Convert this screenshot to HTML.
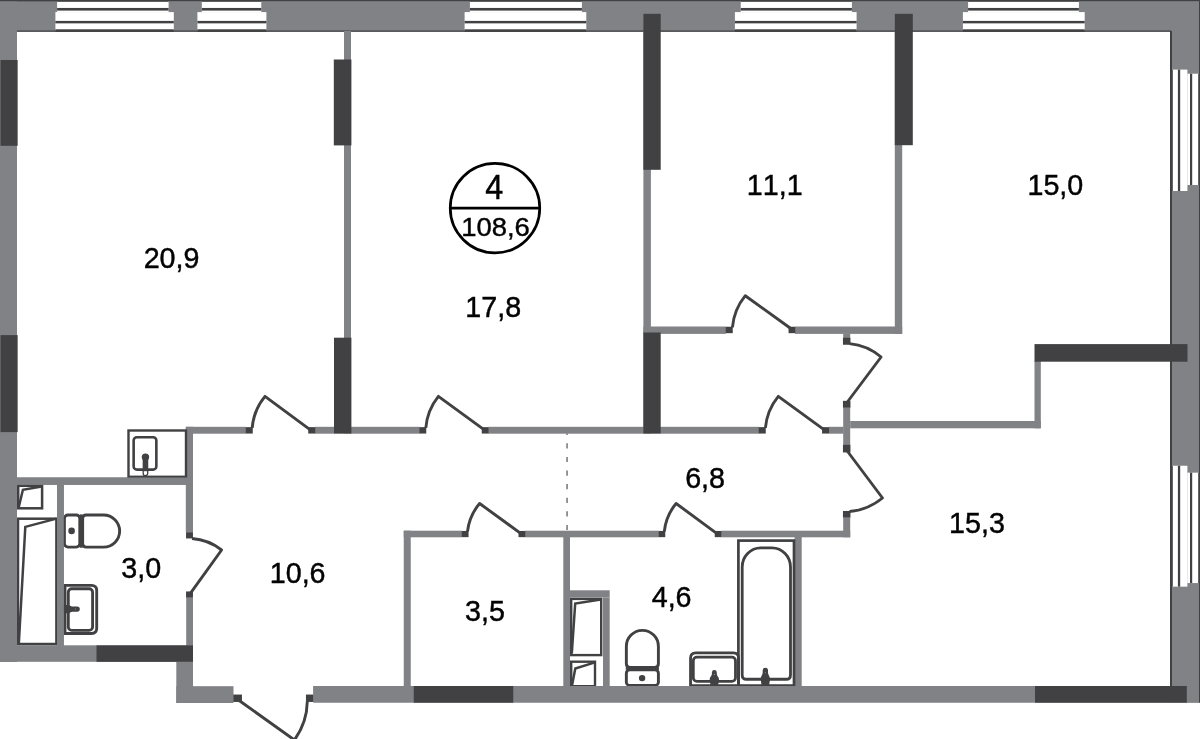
<!DOCTYPE html>
<html lang="ru"><head><meta charset="utf-8"><title>Plan</title>
<style>html,body{margin:0;padding:0;background:#fff;overflow:hidden}svg{display:block}</style></head>
<body><svg width="1200" height="739" viewBox="0 0 1200 739">
<rect width="1200" height="739" fill="#fff"/>
<rect x="0" y="0" width="1200" height="31.5" fill="#808285"/>
<rect x="0" y="0" width="17" height="662" fill="#808285"/>
<rect x="1170" y="0" width="30" height="702.5" fill="#808285"/>
<rect x="313.3" y="686" width="886.7" height="16.5" fill="#808285"/>
<rect x="0" y="645.3" width="193" height="16.5" fill="#808285"/>
<rect x="176.3" y="661.7" width="16.7" height="41.3" fill="#808285"/>
<rect x="176.3" y="686.2" width="57.2" height="16.8" fill="#808285"/>
<rect x="57.1" y="0" width="111.5" height="12.5" fill="#fff"/>
<rect x="55.4" y="12.1" width="118.4" height="18.9" fill="#fff"/>
<rect x="57.1" y="7.95" width="111.5" height="2.65" fill="#414042"/>
<rect x="55.4" y="20.9" width="118.4" height="2.45" fill="#414042"/>
<rect x="201.8" y="0" width="59.5" height="12.5" fill="#fff"/>
<rect x="197.4" y="12.1" width="69" height="18.9" fill="#fff"/>
<rect x="201.8" y="7.95" width="59.5" height="2.65" fill="#414042"/>
<rect x="197.4" y="20.9" width="69" height="2.45" fill="#414042"/>
<rect x="469.9" y="0" width="112" height="12.5" fill="#fff"/>
<rect x="464.6" y="12.1" width="121.7" height="18.9" fill="#fff"/>
<rect x="469.9" y="7.95" width="112" height="2.65" fill="#414042"/>
<rect x="464.6" y="20.9" width="121.7" height="2.45" fill="#414042"/>
<rect x="740.75" y="0" width="111.15" height="12.5" fill="#fff"/>
<rect x="734.9" y="12.1" width="121.7" height="18.9" fill="#fff"/>
<rect x="740.75" y="7.95" width="111.15" height="2.65" fill="#414042"/>
<rect x="734.9" y="20.9" width="121.7" height="2.45" fill="#414042"/>
<rect x="968.1" y="0" width="110.8" height="12.5" fill="#fff"/>
<rect x="962.9" y="12.1" width="121.8" height="18.9" fill="#fff"/>
<rect x="968.1" y="7.95" width="110.8" height="2.65" fill="#414042"/>
<rect x="962.9" y="20.9" width="121.8" height="2.45" fill="#414042"/>
<rect x="0" y="0" width="1200" height="1.2" fill="#414042"/>
<rect x="17" y="30.5" width="1154" height="1.3" fill="#414042"/>
<rect x="57.1" y="0" width="111.5" height="1.8" fill="#414042"/>
<rect x="55.4" y="29.3" width="118.4" height="2.5" fill="#414042"/>
<rect x="201.8" y="0" width="59.5" height="1.8" fill="#414042"/>
<rect x="197.4" y="29.3" width="69" height="2.5" fill="#414042"/>
<rect x="469.9" y="0" width="112" height="1.8" fill="#414042"/>
<rect x="464.6" y="29.3" width="121.7" height="2.5" fill="#414042"/>
<rect x="740.75" y="0" width="111.15" height="1.8" fill="#414042"/>
<rect x="734.9" y="29.3" width="121.7" height="2.5" fill="#414042"/>
<rect x="968.1" y="0" width="110.8" height="1.8" fill="#414042"/>
<rect x="962.9" y="29.3" width="121.8" height="2.5" fill="#414042"/>
<rect x="1187.3" y="73.7" width="12.7" height="111.3" fill="#fff"/>
<rect x="1170" y="69.6" width="17.4" height="121.4" fill="#fff"/>
<rect x="1190" y="73.7" width="2.2" height="111.3" fill="#414042"/>
<rect x="1177.9" y="69.6" width="2.3" height="121.4" fill="#414042"/>
<rect x="1187.3" y="472.66" width="12.7" height="110.41" fill="#fff"/>
<rect x="1170" y="465.76" width="17.4" height="120.89" fill="#fff"/>
<rect x="1190" y="472.66" width="2.2" height="110.41" fill="#414042"/>
<rect x="1177.9" y="465.76" width="2.3" height="120.89" fill="#414042"/>
<rect x="1199" y="0" width="1" height="702.5" fill="#414042"/>
<rect x="1170" y="31" width="2" height="655" fill="#414042"/>
<rect x="1198.2" y="73.7" width="1.8" height="111.3" fill="#414042"/>
<rect x="1170" y="69.6" width="2.8" height="121.4" fill="#414042"/>
<rect x="1198.2" y="472.66" width="1.8" height="110.41" fill="#414042"/>
<rect x="1170" y="465.76" width="2.8" height="120.89" fill="#414042"/>
<rect x="344" y="31" width="7" height="402.6" fill="#808285"/>
<rect x="643.4" y="31" width="7.5" height="402.6" fill="#808285"/>
<rect x="894.8" y="31" width="7.4" height="302.9" fill="#808285"/>
<rect x="643.4" y="326.5" width="82.4" height="7.4" fill="#808285"/>
<rect x="795" y="326.5" width="107.2" height="7.4" fill="#808285"/>
<rect x="843.2" y="333.5" width="7" height="4.5" fill="#808285"/>
<rect x="843.2" y="407.6" width="7" height="37.5" fill="#808285"/>
<rect x="850.2" y="421" width="190.6" height="7.3" fill="#808285"/>
<rect x="1034.5" y="361" width="6.3" height="67.3" fill="#808285"/>
<rect x="185.8" y="426.8" width="60" height="6.9" fill="#808285"/>
<rect x="315" y="426.8" width="104.5" height="6.9" fill="#808285"/>
<rect x="488.5" y="426.8" width="270.5" height="6.9" fill="#808285"/>
<rect x="828.8" y="426.8" width="14.7" height="6.9" fill="#808285"/>
<rect x="185.8" y="426.8" width="7.2" height="105.7" fill="#808285"/>
<rect x="186.2" y="597.5" width="6.8" height="48.5" fill="#808285"/>
<rect x="17" y="477.5" width="176" height="7.3" fill="#808285"/>
<rect x="57" y="484.8" width="6.8" height="161.2" fill="#808285"/>
<rect x="403.75" y="530.7" width="58.25" height="6.6" fill="#808285"/>
<rect x="525" y="530.7" width="133.75" height="6.6" fill="#808285"/>
<rect x="721.25" y="530.7" width="128.95" height="6.6" fill="#808285"/>
<rect x="843.2" y="517.5" width="7" height="19.8" fill="#808285"/>
<rect x="403.75" y="530.7" width="7" height="155.8" fill="#808285"/>
<rect x="563.3" y="536.8" width="6.7" height="149.7" fill="#808285"/>
<rect x="570" y="590.3" width="39.7" height="7.2" fill="#808285"/>
<rect x="603" y="597.5" width="6.7" height="89" fill="#808285"/>
<rect x="794.6" y="536.8" width="7.1" height="149.7" fill="#808285"/>
<rect x="0.5" y="60" width="16.9" height="85.8" fill="#414042"/>
<rect x="0.5" y="335.1" width="16.9" height="97" fill="#414042"/>
<rect x="333.8" y="59.5" width="17.6" height="85.9" fill="#414042"/>
<rect x="334" y="337.7" width="17.4" height="95.7" fill="#414042"/>
<rect x="643.4" y="13.8" width="17.3" height="156" fill="#414042"/>
<rect x="643.4" y="332.5" width="17.3" height="100.9" fill="#414042"/>
<rect x="894.8" y="13.8" width="18" height="131.4" fill="#414042"/>
<rect x="1034.5" y="344.1" width="153" height="17.6" fill="#414042"/>
<rect x="96.5" y="645.4" width="96.5" height="16.4" fill="#414042"/>
<rect x="413.75" y="686" width="99.5" height="16.5" fill="#414042"/>
<rect x="1035" y="686" width="151.8" height="16.5" fill="#414042"/>
<rect x="245.55" y="427.15" width="7.2" height="6.4" fill="#414042"/>
<rect x="308.25" y="427.15" width="7" height="6.4" fill="#414042"/>
<rect x="419.25" y="427.15" width="7" height="6.4" fill="#414042"/>
<rect x="481.75" y="427.15" width="7" height="6.4" fill="#414042"/>
<rect x="758.75" y="427.15" width="7" height="6.4" fill="#414042"/>
<rect x="822.05" y="427.15" width="7" height="6.4" fill="#414042"/>
<rect x="725.55" y="326.75" width="7.2" height="6.4" fill="#414042"/>
<rect x="788.55" y="326.75" width="6.7" height="6.4" fill="#414042"/>
<rect x="842.95" y="337.75" width="7.5" height="7" fill="#414042"/>
<rect x="842.95" y="400.85" width="7.5" height="6.9" fill="#414042"/>
<rect x="842.95" y="444.85" width="7.5" height="7.6" fill="#414042"/>
<rect x="842.95" y="510.95" width="7.5" height="6.7" fill="#414042"/>
<rect x="461.75" y="530.95" width="6.8" height="6.2" fill="#414042"/>
<rect x="518.5" y="530.95" width="6.75" height="6.2" fill="#414042"/>
<rect x="658.5" y="530.95" width="6.75" height="6.2" fill="#414042"/>
<rect x="714.75" y="530.95" width="6.75" height="6.2" fill="#414042"/>
<rect x="186.05" y="532.25" width="6.9" height="6.2" fill="#414042"/>
<rect x="186.05" y="591.45" width="6.9" height="6.2" fill="#414042"/>
<rect x="233.25" y="694.55" width="8.7" height="7.4" fill="#414042"/>
<rect x="305.95" y="694.55" width="7.6" height="7.4" fill="#414042"/>
<path d="M311 430.3L265 396.3A57.2 57.2 0 0 0 252.2 428" fill="none" stroke="#414042" stroke-width="2.9" stroke-linejoin="round"/>
<path d="M485 430.3L438.4 396.3A57.7 57.7 0 0 0 425.8 428" fill="none" stroke="#414042" stroke-width="2.9" stroke-linejoin="round"/>
<path d="M825 430.3L778.3 396.3A57.8 57.8 0 0 0 765.4 428" fill="none" stroke="#414042" stroke-width="2.9" stroke-linejoin="round"/>
<path d="M792.5 329.8L745.3 295.7A58.2 58.2 0 0 0 732.4 327.5" fill="none" stroke="#414042" stroke-width="2.9" stroke-linejoin="round"/>
<path d="M522 534.3L479.6 503.5A52.4 52.4 0 0 0 467.5 531.5" fill="none" stroke="#414042" stroke-width="2.9" stroke-linejoin="round"/>
<path d="M718 534.3L676.1 503.5A52.0 52.0 0 0 0 664.3 531.5" fill="none" stroke="#414042" stroke-width="2.9" stroke-linejoin="round"/>
<path d="M847 402.5L881.1 357A56.9 56.9 0 0 0 849.5 343.6" fill="none" stroke="#414042" stroke-width="2.9" stroke-linejoin="round"/>
<path d="M846.5 450L882.5 498A60.0 60.0 0 0 1 849.5 511.5" fill="none" stroke="#414042" stroke-width="2.9" stroke-linejoin="round"/>
<path d="M190 593.8L221.6 550A54.0 54.0 0 0 0 192 538.5" fill="none" stroke="#414042" stroke-width="2.9" stroke-linejoin="round"/>
<path d="M239.5 700.8L294.4 740A67.5 67.5 0 0 0 307.3 701.5" fill="none" stroke="#414042" stroke-width="2.9" stroke-linejoin="round"/>
<path d="M567.05 433.6V530.7" fill="none" stroke="#58595b" stroke-width="1.25" stroke-dasharray="5.2 8.4" stroke-dashoffset="3.9"/>
<g fill="none" stroke="#414042" stroke-width="2.5" stroke-linejoin="round">
<!-- kitchen sink -->
<rect x="128.5" y="430.5" width="57.5" height="46.3" stroke-width="2.4" stroke-linejoin="miter"/>
<rect x="133.65" y="437.2" width="22.7" height="32.4" rx="3.2" stroke-width="2.6"/>
<path d="M143.2 470.5V473.4a2.25 2.25 0 0 0 4.5 0V470.5" stroke-width="1.3"/>
<path d="M145.45 457V471.2" stroke-width="5.6" stroke-linecap="butt"/>
<circle cx="145.45" cy="457.1" r="3.7" fill="#414042" stroke="none"/>
<!-- bathroom 3,0: boxes -->
<rect x="18.2" y="485.8" width="23.9" height="22.5" stroke-width="2.5" stroke-linejoin="miter"/>
<path d="M18.8 507L22.9 489.8L41.6 486.4" stroke-width="2.5" stroke-linejoin="miter"/>
<rect x="18" y="518.7" width="38.4" height="125.3" stroke-width="2.5" stroke-linejoin="miter"/>
<path d="M18.8 644L25.3 526.9L56.5 518.6" stroke-width="2.5" stroke-linejoin="miter"/>
<!-- toilet 1 -->
<rect x="64.4" y="515" width="15.4" height="32.15" rx="3.6" stroke-width="2.9"/>
<path d="M86.2 515H103.58A16.075 16.075 0 0 1 103.58 547.15H86.2Q82.65 547.15 82.65 543.6V518.55Q82.65 515 86.2 515Z" stroke-width="2.9"/>
<rect x="79.8" y="514.4" width="2.85" height="33.35" fill="#414042" stroke="none"/>
<circle cx="71.6" cy="530.9" r="3.3" fill="#414042" stroke="none"/>
<!-- sink 2 -->
<path d="M65 585.4H91.5Q96.7 585.4 96.7 590.6V628.3Q96.7 633.5 91.5 633.5H65Z" stroke-width="2.85" stroke-linejoin="miter"/>
<rect x="68.3" y="588.75" width="24.3" height="41.55" rx="3.4" stroke-width="2.85"/>
<path d="M63.5 604.9H67.5C70.5 604.9 70 606.5 73 606.5H77.2A2.6 2.6 0 0 1 77.2 611.7H73C70 611.7 70.5 613.3 67.5 613.3H63.5Z" fill="#414042" stroke="none"/>
<circle cx="75.6" cy="609.1" r="0.55" fill="#9a9b9d" stroke="none"/>
<!-- bath 4,6 boxes -->
<rect x="571.2" y="598.9" width="30" height="56.2" stroke-width="2.4" stroke-linejoin="miter"/>
<path d="M571.8 653.5L575.2 603.5L600.8 599.4" stroke-width="2.5" stroke-linejoin="miter"/>
<rect x="571.2" y="661.7" width="23.8" height="24.5" stroke-width="2.4" stroke-linejoin="miter"/>
<path d="M572 685.5L575.3 668.5L595 662.4" stroke-width="2.5" stroke-linejoin="miter"/>
<!-- toilet 2 -->
<path d="M626.35 663.8V646.38A16.025 16.025 0 0 1 658.4 646.38V663.8Q658.4 667.35 654.85 667.35H629.9Q626.35 667.35 626.35 663.8Z" stroke-width="2.9"/>
<rect x="626.35" y="669.75" width="32.05" height="15.8" rx="3.4" stroke-width="2.9"/>
<rect x="625.75" y="667.35" width="33.25" height="2.4" fill="#414042" stroke="none"/>
<circle cx="642.1" cy="678.1" r="3.2" fill="#414042" stroke="none"/>
<!-- sink 3 -->
<path d="M690.55 685.6V658Q690.55 652.8 695.75 652.8H733.4Q738.6 652.8 738.6 658V685.6Z" stroke-width="2.8" stroke-linejoin="miter"/>
<rect x="693.3" y="657.1" width="42.2" height="24.3" rx="3.6" stroke-width="2.8"/>
<path d="M710.9 687C710.6 684 709.7 682 709.7 679.5C709.7 676.5 711.9 676.5 711.9 673.5V672.4A2.45 2.45 0 0 1 716.8 672.4V673.5C716.8 676.5 719 676.5 719 679.5C719 682 718.1 684 717.8 687Z" fill="#414042" stroke="none"/>
<circle cx="714.35" cy="674.4" r="0.55" fill="#9a9b9d" stroke="none"/>
<!-- bathtub -->
<rect x="738.4" y="540.6" width="55.6" height="145" stroke-width="2.7" stroke-linejoin="miter"/>
<path d="M742.2 567A18.5 19.1 0 0 1 760.7 547.9H772A18.5 19.1 0 0 1 790.5 567V674.9Q790.5 679.25 786.2 679.25H746.5Q742.2 679.25 742.2 674.9Z" stroke-width="2.8"/>
<path d="M761.9 687C761.6 684 760.8 682 760.8 679C760.8 675.5 762.7 675.5 762.7 672V670.4A2.65 2.65 0 0 1 768 670.4V672C768 675.5 769.9 675.5 769.9 679C769.9 682 769.1 684 768.8 687Z" fill="#414042" stroke="none"/>
<circle cx="765.35" cy="672.8" r="0.55" fill="#9a9b9d" stroke="none"/>
</g>
<rect x="57" y="484.8" width="6.8" height="161.2" fill="#808285"/>
<rect x="313.3" y="686" width="886.7" height="16.5" fill="#808285"/>
<rect x="413.75" y="686" width="99.5" height="16.5" fill="#414042"/>
<rect x="1035" y="686" width="151.8" height="16.5" fill="#414042"/>
<rect x="1199" y="686" width="1" height="16.5" fill="#414042"/>
<rect x="0" y="0" width="17" height="662" fill="#808285"/>
<rect x="0.5" y="60" width="16.9" height="85.8" fill="#414042"/>
<rect x="0.5" y="335.1" width="16.9" height="97" fill="#414042"/>
<rect x="17" y="477.5" width="176" height="7.3" fill="#808285"/>
<rect x="0" y="0" width="57" height="1.2" fill="#414042"/>

<circle cx="495" cy="208.1" r="44.75" fill="none" stroke="#000" stroke-width="2.7"/>
<path d="M450 208.15H540" stroke="#000" stroke-width="2.9"/>
<g font-family="'Liberation Sans',Arial,sans-serif" fill="#000" stroke="#000" stroke-width="0.45" style="font-kerning:none;font-variant-ligatures:none" opacity="0.995">
<text transform="translate(143.63 267.80) scale(1 1.025)" font-size="28.7">20,9</text>
<text transform="translate(465.36 316.65) scale(1 1.025)" font-size="28.7">17,8</text>
<text transform="translate(746.84 195.15) scale(1 1.025)" font-size="28.7">11,1</text>
<text transform="translate(1027.45 195.15) scale(1 1.025)" font-size="28.7">15,0</text>
<text transform="translate(685.15 487.65) scale(1 1.025)" font-size="28.7">6,8</text>
<text transform="translate(949.07 532.75) scale(1 1.025)" font-size="28.7">15,3</text>
<text transform="translate(121.32 577.85) scale(1 1.025)" font-size="28.7">3,0</text>
<text transform="translate(269.72 582.55) scale(1 1.025)" font-size="28.7">10,6</text>
<text transform="translate(465.01 620.85) scale(1 1.025)" font-size="28.7">3,5</text>
<text transform="translate(651.68 606.50) scale(1 1.025)" font-size="28.7">4,6</text>
<text transform="translate(485.35 198.85) scale(1 1.066)" font-size="32.3">4</text>
<text transform="translate(461.23 235.65) scale(1 0.935)" font-size="27.4">108,6</text>
</g>
</svg></body></html>
